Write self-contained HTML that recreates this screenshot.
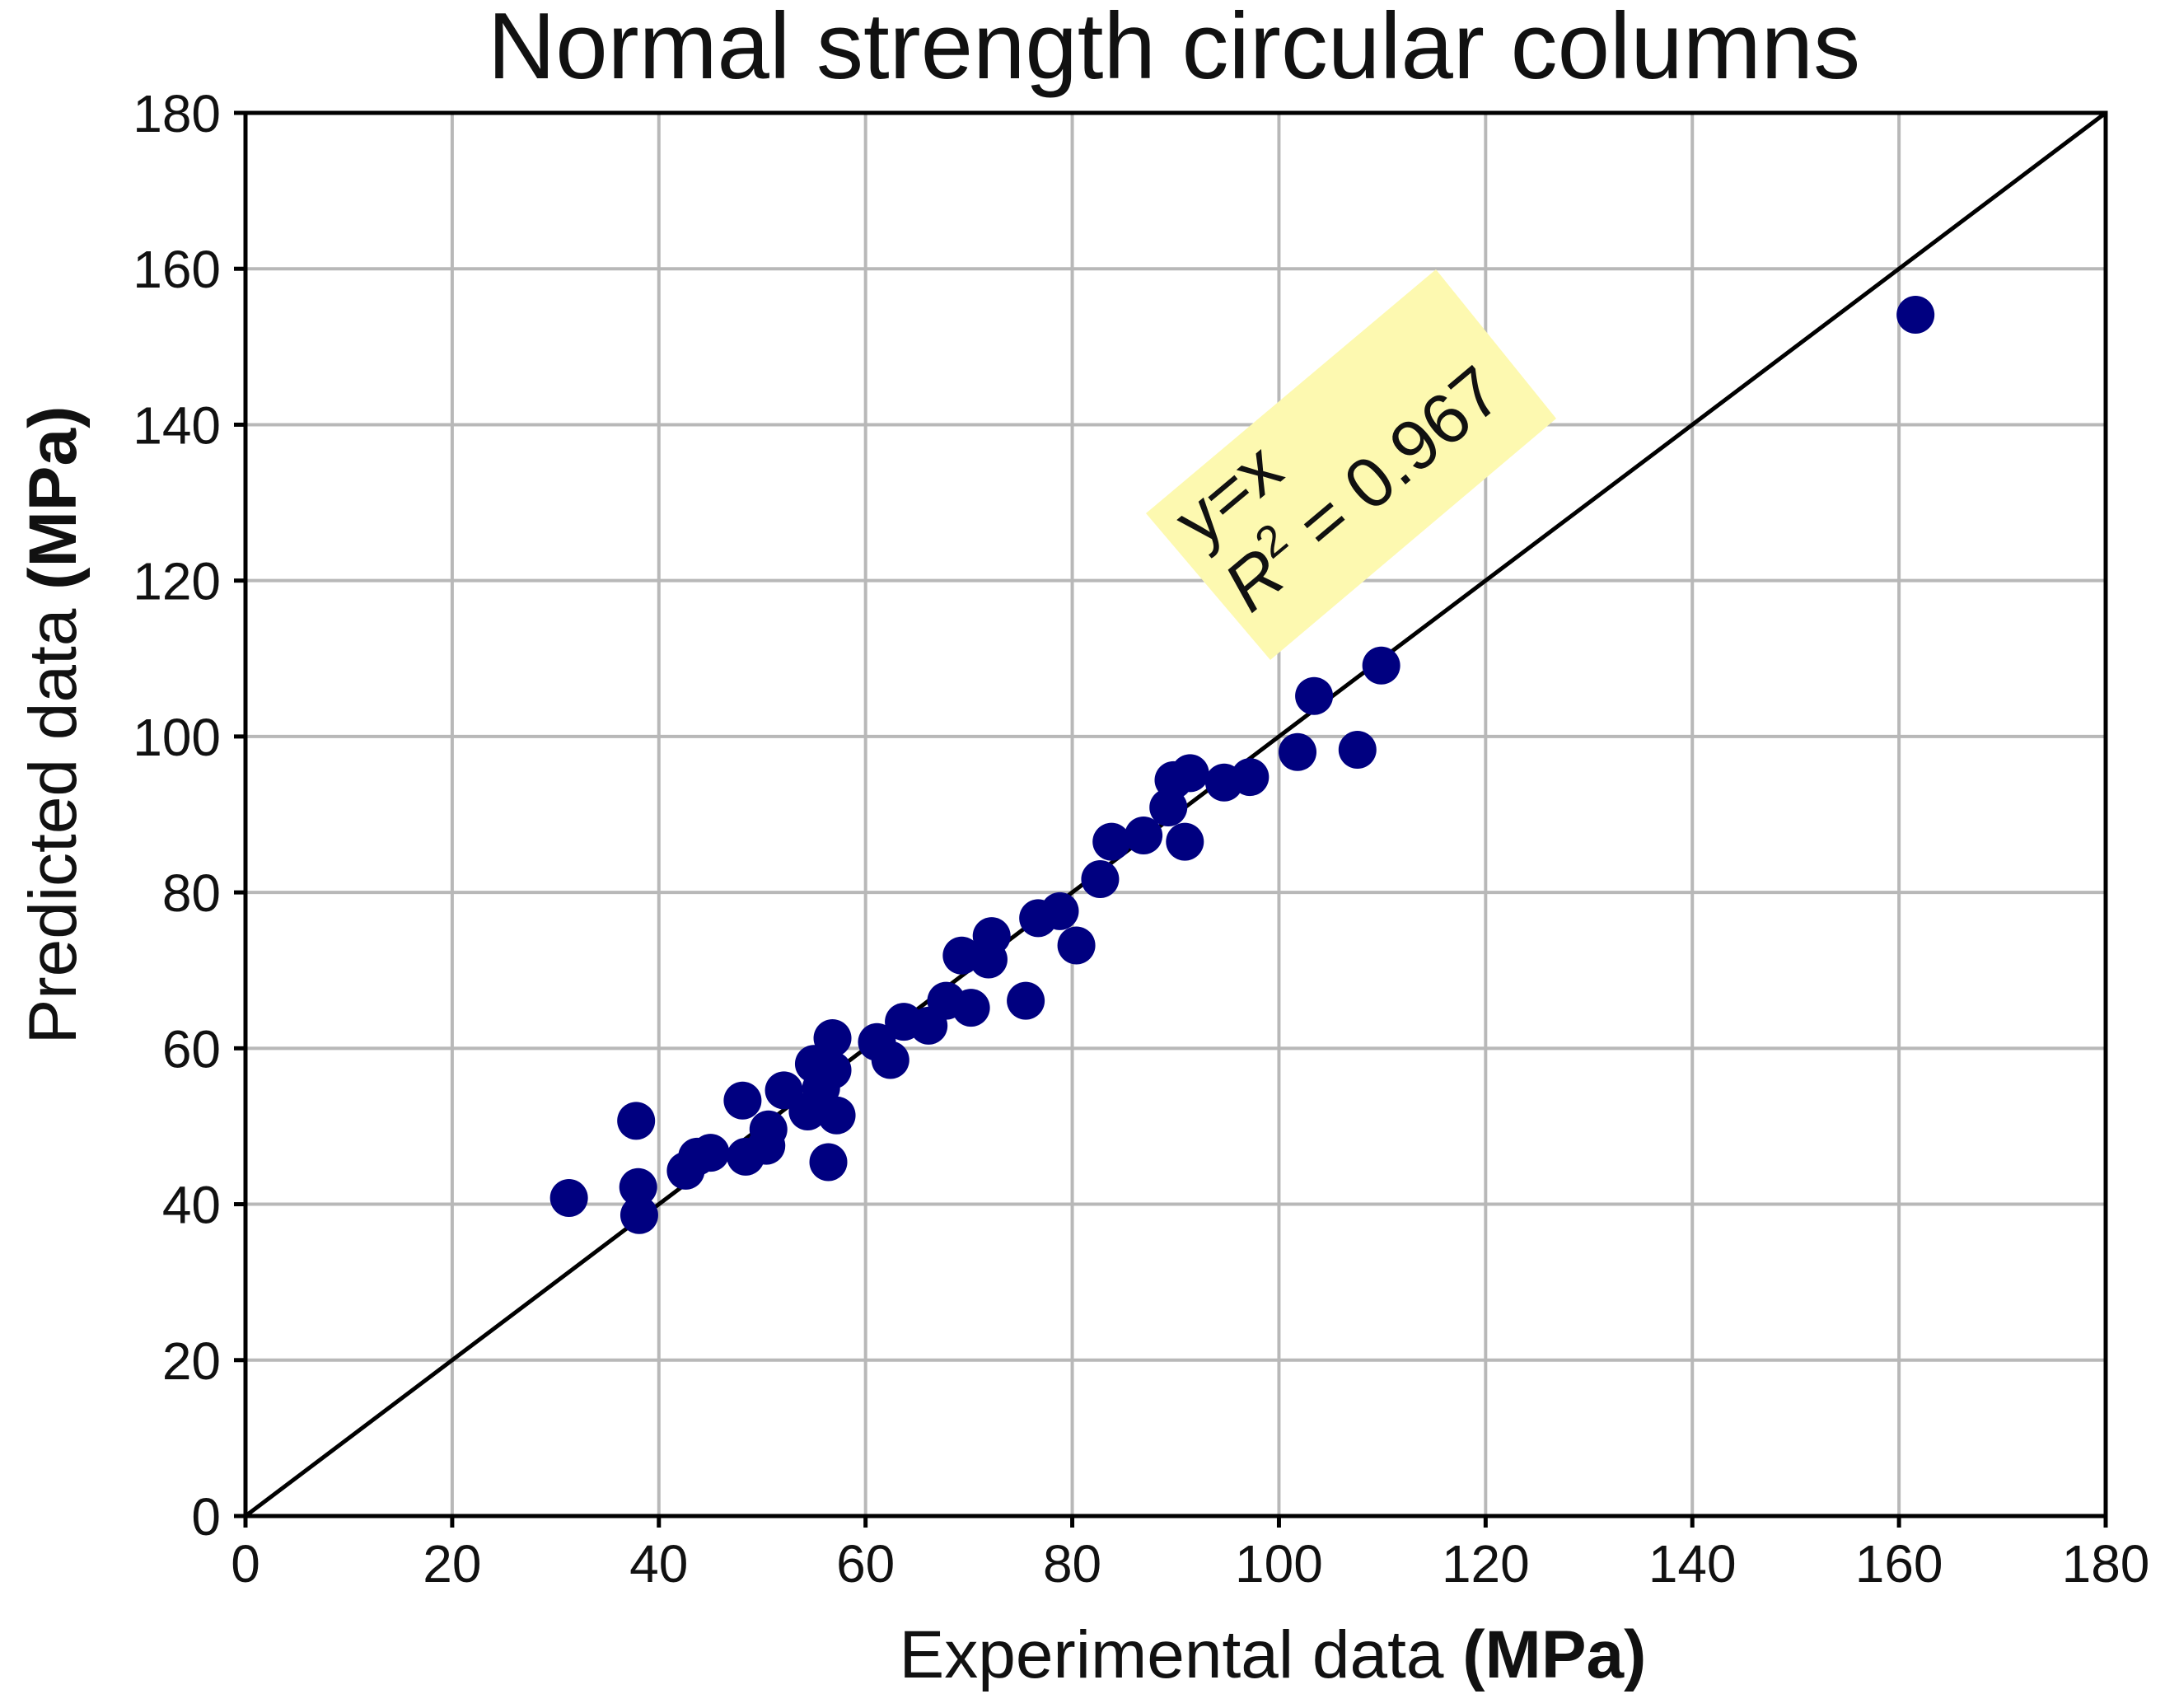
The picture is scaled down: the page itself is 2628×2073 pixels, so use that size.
<!DOCTYPE html>
<html><head><meta charset="utf-8"><style>html,body{margin:0;padding:0;background:#fff}svg{display:block}text{font-family:"Liberation Sans","DejaVu Sans",sans-serif;fill:#111}</style></head>
<body>
<svg id="chart" width="2628" height="2073" viewBox="0 0 2628 2073" xmlns="http://www.w3.org/2000/svg">
<g id="grid"></g>
<line id="diag" stroke="#000" stroke-width="5"/>
<g id="ann">
<polygon points="1743,327 1889,508 1542,801 1391,623" fill="#fdf9b0"/>
<g transform="translate(1640,565) rotate(-40)">
<text x="-205" y="-40" font-size="86">y=x</text>
<text x="-210" y="60" font-size="86"><tspan font-style="italic">R</tspan><tspan font-size="54" dy="-34">2</tspan><tspan dy="34"> = 0.967</tspan></text>
</g>
</g>
<g id="pts"></g>
<rect x="298" y="137" width="2258" height="1703" fill="none" stroke="#000" stroke-width="5"/>
<g id="ticks"></g>
<text x="1425" y="95" font-size="114" text-anchor="middle">Normal strength circular columns</text>
<text x="1545" y="2036" font-size="82" text-anchor="middle">Experimental data <tspan font-weight="bold">(MPa)</tspan></text>
<text transform="translate(92,880) rotate(-90)" font-size="82" text-anchor="middle">Predicted data <tspan font-weight="bold">(MPa)</tspan></text>
</svg>
<script>
const xTicks = [0,20,40,60,80,100,120,140,160,180];
const yTicks = [0,20,40,60,80,100,120,140,160,180];
const expX = [31.3,37.8,38,38.1,42.6,43.7,45,48.1,48.4,50.4,50.6,52.1,54.4,55.7,56.4,56.8,57.2,56.8,55,61.1,62.4,63.7,66.1,67.8,69.3,70.2,72.2,71.9,75.5,76.7,78.8,80.4,82.7,83.8,86.9,89.3,89.8,90.9,91.4,94.7,97.2,101.8,103.4,107.6,109.9,161.6];
const predY = [40.8,50.7,42.2,38.6,44.3,46.1,46.6,53.3,46.1,47.5,49.6,54.6,51.9,54.9,45.4,61.3,51.4,57.2,58,60.8,58.5,63.4,62.9,66.1,71.9,65.2,74.4,71.4,66.1,76.7,77.6,73.2,81.7,86.5,87.3,90.9,94.4,86.5,95.3,94.1,94.8,98,105.2,98.3,109.1,154.1];
const L=298,R=2556,T=137,B=1840;
const sx=v=>L+(v-0)/180*(R-L);
const sy=v=>B-(v-0)/180*(B-T);
const NS='http://www.w3.org/2000/svg';
const grid=document.getElementById('grid'),ticks=document.getElementById('ticks'),pts=document.getElementById('pts');
function mk(tag,attrs,parent){const e=document.createElementNS(NS,tag);for(const k in attrs)e.setAttribute(k,attrs[k]);parent.appendChild(e);return e;}
xTicks.forEach(v=>{
 const g=mk('line',{x1:sx(v),x2:sx(v),y1:T,y2:B,stroke:'#b8b8b8','stroke-width':4},grid);
 
 
 const t=mk('line',{x1:sx(v),x2:sx(v),y1:B,y2:B+14,stroke:'#000','stroke-width':5},ticks);
 
 
 const lb=mk('text',{x:sx(v),y:B+80,'font-size':64,'text-anchor':'middle'},ticks);
 lb.textContent=v;
 
 
});
yTicks.forEach(v=>{
 const g=mk('line',{x1:L,x2:R,y1:sy(v),y2:sy(v),stroke:'#b8b8b8','stroke-width':4},grid);
 
 
 const t=mk('line',{x1:L-14,x2:L,y1:sy(v),y2:sy(v),stroke:'#000','stroke-width':5},ticks);
 
 
 const lb=mk('text',{x:L-30,y:sy(v)+23,'font-size':64,'text-anchor':'end'},ticks);
 lb.textContent=v;
 
 
});
const d=document.getElementById('diag');
d.setAttribute('x1',sx(0));d.setAttribute('y1',sy(0));d.setAttribute('x2',sx(180));d.setAttribute('y2',sy(180));
expX.forEach((x,i)=>{
 const c=mk('circle',{cx:sx(x),cy:sy(predY[i]),r:23,fill:'#000080'},pts);
 
 
});
</script>
</body></html>
